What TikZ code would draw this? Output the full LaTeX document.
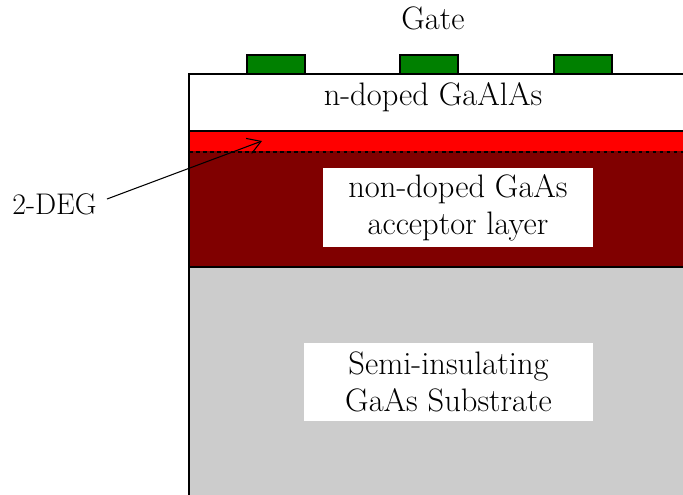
\documentclass[tikz,border=0pt]{standalone}
\usepackage{tikz}
\usetikzlibrary{arrows.meta}

\definecolor{gatecol}{RGB}{0,128,0}
\definecolor{degcol}{RGB}{255,0,0}
\definecolor{acccol}{RGB}{128,0,0}
\definecolor{subcol}{RGB}{204,204,204}

\begin{document}
\begin{tikzpicture}[x=0.02cm, y=-0.02cm, semithick,
    txt/.style={font=\fontsize{18.5}{21}\selectfont, align=center},
    labelbox/.style={txt, fill=white, inner sep=0pt},
    gatebox/.style={fill=gatecol, draw=black}]

  \useasboundingbox (0,0) rectangle (683,494);

  % layers
  \fill[subcol] (189,267) rectangle (684,495);
  \fill[acccol] (189,151) rectangle (684,267);
  \fill[degcol] (189,131) rectangle (684,151);
  \draw (189,267) -- (684,267);
  \draw [line width=1.2pt] (189,131) -- (684,131);
  \draw [dashed, dash pattern=on 2pt off 2pt] (189,152) -- (684,152);
  \draw (684,74) -- (189,74) -- (189,495);

  % gates
  \node[gatebox, minimum width=1.16cm, minimum height=0.38cm, inner sep=0pt] (g1) at (276,64.5) {};
  \node[gatebox, minimum width=1.16cm, minimum height=0.38cm, inner sep=0pt] (g2) at (429,64.5) {};
  \node[gatebox, minimum width=1.16cm, minimum height=0.38cm, inner sep=0pt] (g3) at (583,64.5) {};
  \node[txt] (gate) at (433,18) {Gate};

  \node[txt] (ndoped) at (433,97) {n-doped GaAlAs};

  \node[labelbox, minimum width=5.4cm, minimum height=1.58cm] (acceptor) at (458,207.5)
       {non-doped GaAs\\acceptor layer};
  \node[labelbox, minimum width=5.78cm, minimum height=1.56cm] (substrate) at (448.5,382)
       {Semi-insulating\\GaAs Substrate};

  % 2-DEG pointer
  \node[font=\fontsize{17}{20}\selectfont, anchor=east] (deg) at (103,204) {2-DEG};
  \coordinate (degpt) at (262,141);
  \draw [-{Straight Barb[length=2.6mm, width=3.2mm]}] (deg.east) ++(4,-5) -- (degpt);
\end{tikzpicture}
\end{document}
